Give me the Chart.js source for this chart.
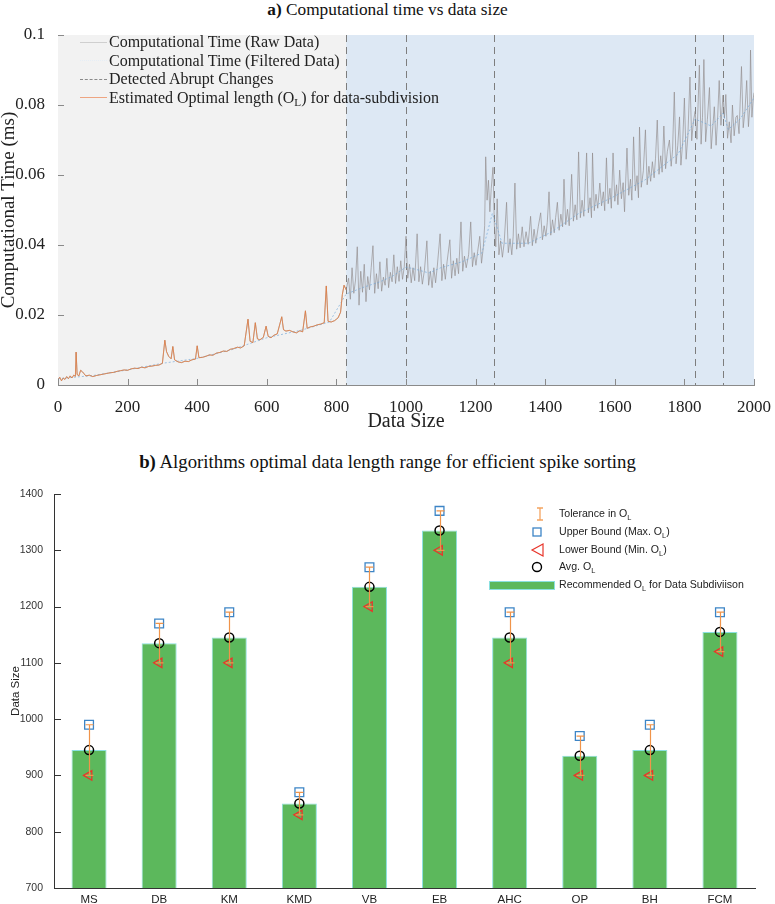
<!DOCTYPE html>
<html>
<head>
<meta charset="utf-8">
<script src="https://cdn.jsdelivr.net/npm/chart.js@4.4.1/dist/chart.umd.min.js"></script>
<style>
  body { margin: 0; background: #fff; width: 775px; height: 904px; position: relative; overflow: hidden; }
  .box { position: absolute; left: 0; width: 775px; }
  .ttl { position: absolute; left: 0; width: 775px; text-align: center; font-family: 'Liberation Serif'; color: #111; line-height: 20px; }
  .lgA { position: absolute; left: 80px; font-family: 'Liberation Serif'; font-size: 16px; color: #222; line-height: 18.5px; }
  .lgA div { height: 18.5px; white-space: nowrap; }
  .lgA span.s { display: inline-block; width: 27px; height: 0; vertical-align: middle; margin-right: 2px; position: relative; top: -1px; }
  .lgA sub, .lgB sub { font-size: 70%; vertical-align: -3px; line-height: 0; }
  .lgB { position: absolute; left: 489px; top: 505px; font-family: 'Liberation Sans'; font-size: 10.6px; color: #222; }
  .lgB div { height: 17.8px; white-space: nowrap; position: relative; }
  .lgB svg { position: absolute; left: 0; top: 0; }
  .lgB .t { position: absolute; left: 70px; top: 2px; }
</style>
</head>
<body>

<div class="ttl" style="top:0px;font-size:17.3px"><b>a)</b> Computational time vs data size</div>
<div class="box" style="top:0px;height:436px"><canvas id="timeChart" width="775" height="436"></canvas></div>
<div class="lgA" style="top:33px">
  <div><span class="s" style="border-top:1px solid #cfcfcf"></span>Computational Time (Raw Data)</div>
  <div><span class="s" style="border-top:1px dotted #e6eef6"></span>Computational Time (Filtered Data)</div>
  <div><span class="s" style="border-top:1px dashed #8a8a8a"></span>Detected Abrupt Changes</div>
  <div><span class="s" style="border-top:1px solid #eea582"></span>Estimated Optimal length (O<sub>L</sub>) for data-subdivision</div>
</div>

<div class="ttl" style="top:452px;font-size:18.8px"><b>b)</b> Algorithms optimal data length range for efficient spike sorting</div>
<div class="box" style="top:440px;height:464px"><canvas id="algoChart" width="775" height="464"></canvas></div>
<div class="lgB">
  <div><svg width="70" height="18"><path d="M48 3 H54 M51 3 V15 M48 15 H54" stroke="#f4a460" stroke-width="1.3" fill="none"/></svg><span class="t">Tolerance in O<sub>L</sub></span></div>
  <div><svg width="70" height="18"><rect x="44" y="5" width="8" height="8" stroke="#3d85c6" stroke-width="1.3" fill="none"/></svg><span class="t">Upper Bound (Max. O<sub>L</sub>)</span></div>
  <div><svg width="70" height="18"><path d="M54 3 L43 9 L54 15 Z" stroke="#e8352a" stroke-width="1.2" fill="none"/></svg><span class="t">Lower Bound (Min. O<sub>L</sub>)</span></div>
  <div><svg width="70" height="18"><circle cx="48" cy="9" r="4.5" stroke="#000" stroke-width="1.4" fill="none"/></svg><span class="t">Avg. O<sub>L</sub></span></div>
  <div><svg width="70" height="18"><rect x="0.5" y="5.5" width="65" height="8" stroke="#8be0e0" stroke-width="1" fill="#5cb85c"/></svg><span class="t">Recommended O<sub>L</sub> for Data Subdiviison</span></div>
</div>

<script>
// ---- a) computational time vs data size ----
const rawX = [0,5,10,15,20,25,30,35,40,45,50,52,55,60,65,70,75,80,90,100,110,120,130,140,150,160,170,180,190,200,
  210,220,230,240,250,260,270,280,290,300,307,312,318,325,330,335,345,355,365,375,385,395,400,405,415,425,435,445,455,465,
  475,485,495,505,515,525,535,546,552,560,567,573,580,590,598,604,612,620,630,643,648,655,665,675,685,695,703,711,716,725,
  735,745,755,765,771,776,785,795,805,812,817,822,828,
  835,840,845,850,855,860,865,870,875,880,885,890,895,900,905,910,915,920,925,930,935,940,945,950,955,960,965,970,975,980,
  985,990,995,1000,1005,1010,1015,1020,1025,1032,1037,1042,1047,1053,1060,1065,1070,1075,1080,1085,1090,1098,1103,1108,1113,1118,1126,1131,1136,1141,
  1146,1151,1158,1163,1168,1173,1180,1186,1191,1196,1201,1206,1212,1217,1222,1226,1229,1233,1237,1241,1245,1250,1254,1258,1262,1267,1272,1277,1282,1289,
  1294,1299,1304,1308,1313,1318,1323,1328,1334,1339,1345,1351,1358,1363,1368,1373,1380,1387,1392,1397,1402,1406,1411,1416,1421,1426,1430,1435,1440,1445,
  1450,1454,1459,1464,1469,1476,1481,1486,1491,1496,1501,1506,1511,1519,1524,1529,1533,1536,1541,1546,1551,1557,1562,1567,1571,1576,1581,1586,1590,1595,
  1600,1605,1609,1614,1619,1624,1628,1635,1640,1645,1649,1654,1659,1664,1668,1671,1676,1682,1688,1693,1698,1703,1708,1713,1717,1722,1727,1732,1736,1741,
  1746,1751,1757,1762,1766,1771,1776,1781,1786,1790,1795,1800,1805,1810,1816,1821,1826,1831,1836,1843,1848,1852,1856,1861,1866,1872,1877,1882,1886,1891,
  1895,1900,1905,1911,1915,1919,1924,1929,1934,1938,1943,1948,1952,1957,1964,1969,1974,1979,1984,1988,1990,1994,1998,2000];
const rawY = [0.0015,0.0022,0.0012,0.002,0.0016,0.0024,0.0018,0.0026,0.002,0.0028,0.0025,0.0094,0.003,0.0026,0.0042,0.0038,0.0032,0.0026,0.0028,0.0024,
  0.0027,0.0029,0.0031,0.0033,0.0035,0.0036,0.0039,0.0041,0.0043,0.0042,0.0046,0.0048,0.0047,0.0051,0.0049,0.0053,0.0054,0.0056,0.0057,0.0062,
  0.0128,0.0095,0.0082,0.0075,0.011,0.0072,0.0066,0.0064,0.0068,0.0067,0.0072,0.0074,0.0112,0.0078,0.0079,0.0082,0.0086,0.0085,0.0091,0.0093,
  0.0097,0.0096,0.0102,0.0104,0.0108,0.0106,0.0112,0.0188,0.0125,0.0121,0.0178,0.0132,0.0129,0.0136,0.0168,0.0139,0.0135,0.0142,0.0146,0.0195,
  0.0158,0.0154,0.0156,0.0152,0.0149,0.0155,0.0152,0.0212,0.0162,0.0166,0.0168,0.0172,0.0174,0.0178,0.0283,0.0182,0.018,0.0184,0.0192,0.0208,
  0.0258,0.0285,0.0272,
  0.0305,0.0245,0.0335,0.0262,0.03,0.0395,0.0228,0.0325,0.0265,0.0345,0.0238,0.031,0.0272,0.0335,0.0398,0.0262,0.0318,0.0275,0.0352,0.0268,
  0.0308,0.0285,0.0362,0.0278,0.0322,0.0295,0.0372,0.029,0.0338,0.0296,0.0355,0.0302,0.0338,0.0425,0.0305,0.0345,0.0292,0.0335,0.0298,0.0432,
  0.0295,0.0338,0.0288,0.0328,0.0412,0.0285,0.0325,0.0278,0.0335,0.0292,0.034,0.0432,0.0298,0.0345,0.0302,0.0352,0.0415,0.0305,0.0355,0.0312,
  0.0362,0.0318,0.0466,0.0325,0.0368,0.0335,0.0372,0.0466,0.0338,0.0378,0.0342,0.0382,0.0425,0.0348,0.0392,0.0455,0.0652,0.0528,0.0585,0.0495,
  0.0562,0.0622,0.0455,0.0395,0.0532,0.0372,0.0412,0.0365,0.0405,0.0522,0.0378,0.0418,0.0372,0.0425,0.0577,0.0388,0.0432,0.0392,0.0452,0.0395,
  0.0438,0.0402,0.0482,0.0398,0.0445,0.0405,0.0452,0.0492,0.0415,0.0455,0.0425,0.0465,0.0552,0.0428,0.0472,0.0435,0.0478,0.0522,0.0442,0.0488,
  0.0452,0.0588,0.0458,0.0502,0.0455,0.0602,0.0468,0.0515,0.0472,0.0666,0.0478,0.0528,0.0482,0.0663,0.0492,0.0535,0.0478,0.0663,0.0498,0.0545,
  0.0505,0.0577,0.0512,0.0552,0.0498,0.0649,0.0518,0.0562,0.0505,0.0663,0.0525,0.0572,0.0515,0.0614,0.0532,0.0578,0.0495,0.0677,0.0542,0.0588,
  0.0528,0.0709,0.0555,0.0598,0.0535,0.0737,0.0565,0.0612,0.0729,0.0572,0.0625,0.0582,0.0638,0.0592,0.0648,0.0757,0.0602,0.0655,0.0608,0.074,
  0.0618,0.0668,0.07,0.0625,0.0672,0.0837,0.0632,0.0685,0.0766,0.0628,0.0692,0.082,0.0645,0.0712,0.088,0.0698,0.0755,0.0782,0.0702,0.0914,
  0.0688,0.0765,0.093,0.0695,0.0758,0.085,0.0675,0.0742,0.0795,0.0685,0.0752,0.087,0.0742,0.0828,0.0762,0.083,0.0705,0.0752,0.0692,0.08,
  0.0712,0.0765,0.077,0.0718,0.091,0.0735,0.0782,0.087,0.0738,0.0795,0.0957,0.0765,0.082,0.0835];
const filtX = [0,100,200,300,400,500,600,700,780,828,880,923,960,1000,1030,1066,1100,1161,1218,1235,1248,1262,1276,1352,1418,1496,1591,1687,1782,1831,1877,1911,1926,1960,2000];
const filtY = [0.0018,0.0027,0.0043,0.0062,0.0076,0.0101,0.0135,0.0157,0.018,0.026,0.028,0.0294,0.031,0.0337,0.033,0.032,0.0335,0.0352,0.0377,0.044,0.049,0.045,0.0405,0.0405,0.0437,0.049,0.0535,0.0586,0.066,0.076,0.074,0.0777,0.073,0.076,0.082];
const optimalEnd = 828;
const regionStart = [0, 828];
const regionEnd = [828, 2000];
const abruptChanges = [828, 1000, 1254, 1831, 1911];

// ---- b) algorithms optimal data length ----
const algos = ['MS','DB','KM','KMD','VB','EB','AHC','OP','BH','FCM'];
const avgOL = [945,1135,1145,850,1235,1335,1145,935,945,1155];
const maxOL = [990,1170,1190,870,1270,1370,1190,970,990,1190];
const minOL = [900,1100,1100,830,1200,1300,1100,900,900,1120];

const regionColors = ['#f2f2f2', '#dde8f4'];

function innerTicks(chart, axes, len, color) {
  const {ctx, chartArea: a, scales} = chart;
  ctx.save();
  ctx.strokeStyle = color;
  ctx.lineWidth = 1;
  ctx.beginPath();
  if (axes.includes('x')) {
    scales.x.ticks.forEach((t, i) => {
      const p = Math.round(scales.x.getPixelForTick(i)) + 0.5;
      ctx.moveTo(p, a.bottom); ctx.lineTo(p, a.bottom - len);
    });
  }
  if (axes.includes('y')) {
    scales.y.ticks.forEach((t, i) => {
      const p = Math.round(scales.y.getPixelForTick(i)) + 0.5;
      ctx.moveTo(a.left, p); ctx.lineTo(a.left + len, p);
    });
  }
  ctx.stroke();
  ctx.restore();
}

const timeDecor = {
  id: 'timeDecor',
  beforeDatasetsDraw(chart) {
    const {ctx, chartArea: a, scales: {x}} = chart;
    ctx.save();
    regionStart.forEach((s, i) => {
      const x0 = x.getPixelForValue(s), x1 = x.getPixelForValue(regionEnd[i]);
      ctx.fillStyle = regionColors[i];
      ctx.fillRect(x0, a.top, x1 - x0, a.bottom - a.top);
    });
    ctx.strokeStyle = '#7d7d7d';
    ctx.lineWidth = 1;
    ctx.setLineDash([7, 5]);
    abruptChanges.forEach(c => {
      const px = Math.round(x.getPixelForValue(c)) + 0.5;
      ctx.beginPath(); ctx.moveTo(px, a.top); ctx.lineTo(px, a.bottom); ctx.stroke();
    });
    ctx.restore();
  },
  afterDraw(chart) { innerTicks(chart, 'xy', 6, '#8a8a8a'); }
};

const serif = 'Liberation Serif';
const rawPts = rawX.map((v, i) => ({x: v, y: rawY[i]}));

new Chart(document.getElementById('timeChart'), {
  type: 'line',
  data: {
    datasets: [
      {
        label: 'Estimated Optimal length',
        data: rawPts.filter(p => p.x <= optimalEnd),
        borderColor: 'rgba(232,125,62,0.85)',
        borderWidth: 0.9,
        pointRadius: 0
      },
      {
        label: 'Computational Time (Filtered Data)',
        data: filtX.map((v, i) => ({x: v, y: filtY[i]})),
        borderColor: 'rgba(110,165,215,0.8)',
        borderDash: [2, 2],
        borderWidth: 0.8,
        pointRadius: 0
      },
      {
        label: 'Computational Time (Raw Data)',
        data: rawPts,
        borderColor: 'rgba(145,138,138,0.65)',
        borderWidth: 1,
        pointRadius: 0
      }
    ]
  },
  options: {
    responsive: false,
    animation: false,
    layout: {padding: {left: 0, right: 19, top: 35, bottom: 0}},
    plugins: {legend: {display: false}, tooltip: {enabled: false}},
    scales: {
      x: {
        type: 'linear', min: 0, max: 2000,
        afterFit: s => { s.height = 51; },
        grid: {display: false},
        border: {color: '#8a8a8a'},
        ticks: {stepSize: 200, autoSkip: false, maxRotation: 0, padding: 4, color: '#222',
          font: {family: serif, size: 17}, callback: v => String(v)},
        title: {display: true, text: 'Data Size', color: '#222', font: {family: serif, size: 20}, padding: {top: 0, bottom: 2}}
      },
      y: {
        min: 0, max: 0.1,
        afterFit: s => { s.width = 58; },
        grid: {display: false},
        border: {color: '#8a8a8a'},
        ticks: {stepSize: 0.02, padding: 5, color: '#222', font: {family: serif, size: 17},
          callback: v => String(+v.toFixed(2))},
        title: {display: true, text: 'Computational Time (ms)', color: '#222',
          font: {family: serif, size: 19, lineHeight: 1}, padding: {top: 0, bottom: 0}}
      }
    }
  },
  plugins: [timeDecor]
});

const errorBars = {
  id: 'errorBars',
  afterDatasetsDraw(chart) {
    const {ctx, scales: {x, y}} = chart;
    ctx.save();
    ctx.strokeStyle = '#f0944a';
    ctx.lineWidth = 1.2;
    algos.forEach((a, i) => {
      const px = Math.round(x.getPixelForValue(i)) + 0.5;
      const yt = y.getPixelForValue(maxOL[i]), yb = y.getPixelForValue(minOL[i]);
      ctx.beginPath();
      ctx.moveTo(px, yt); ctx.lineTo(px, yb);
      ctx.moveTo(px - 4, yt); ctx.lineTo(px + 4, yt);
      ctx.moveTo(px - 4, yb); ctx.lineTo(px + 4, yb);
      ctx.stroke();
    });
    ctx.restore();
  },
  afterDraw(chart) { innerTicks(chart, 'y', 7, '#333'); }
};

const sans = 'Liberation Sans';
new Chart(document.getElementById('algoChart'), {
  type: 'bar',
  data: {
    labels: algos,
    datasets: [
      {type: 'line', label: 'Avg. OL', data: avgOL, showLine: false, order: 0,
        pointStyle: 'circle', pointRadius: 4.5, borderColor: '#000', borderWidth: 1.5, backgroundColor: 'rgba(0,0,0,0)'},
      {type: 'line', label: 'Upper Bound', data: maxOL, showLine: false, order: 1,
        pointStyle: 'rect', pointRadius: 6.2, borderColor: '#3d85c6', borderWidth: 1.3, backgroundColor: 'rgba(255,255,255,0.4)'},
      {type: 'line', label: 'Lower Bound', data: minOL, showLine: false, order: 1,
        pointStyle: 'triangle', rotation: -90, pointRadius: 5.5, borderColor: '#e8352a', borderWidth: 1.3, backgroundColor: 'rgba(0,0,0,0)'},
      {label: 'Recommended OL for Data Subdiviison', data: avgOL, order: 3,
        backgroundColor: '#5cb85c', borderColor: '#8be0e0', borderWidth: 1,
        barPercentage: 0.5, categoryPercentage: 1}
    ]
  },
  options: {
    responsive: false,
    animation: false,
    layout: {padding: {left: 0, right: 20, top: 54, bottom: 0}},
    plugins: {legend: {display: false}, tooltip: {enabled: false}},
    scales: {
      x: {
        afterFit: s => { s.height = 16; },
        grid: {display: false},
        border: {color: '#333'},
        ticks: {padding: -3, color: '#222', font: {family: sans, size: 11.5}}
      },
      y: {
        min: 700, max: 1400,
        afterFit: s => { s.width = 54; },
        grid: {display: false},
        border: {color: '#333'},
        ticks: {stepSize: 100, padding: 3, color: '#333', font: {family: sans, size: 10.5}, callback: v => String(v)},
        title: {display: true, text: 'Data Size', color: '#222', font: {family: sans, size: 11.5}, padding: {top: 9, bottom: 0}}
      }
    }
  },
  plugins: [errorBars]
});
</script>
</body>
</html>
